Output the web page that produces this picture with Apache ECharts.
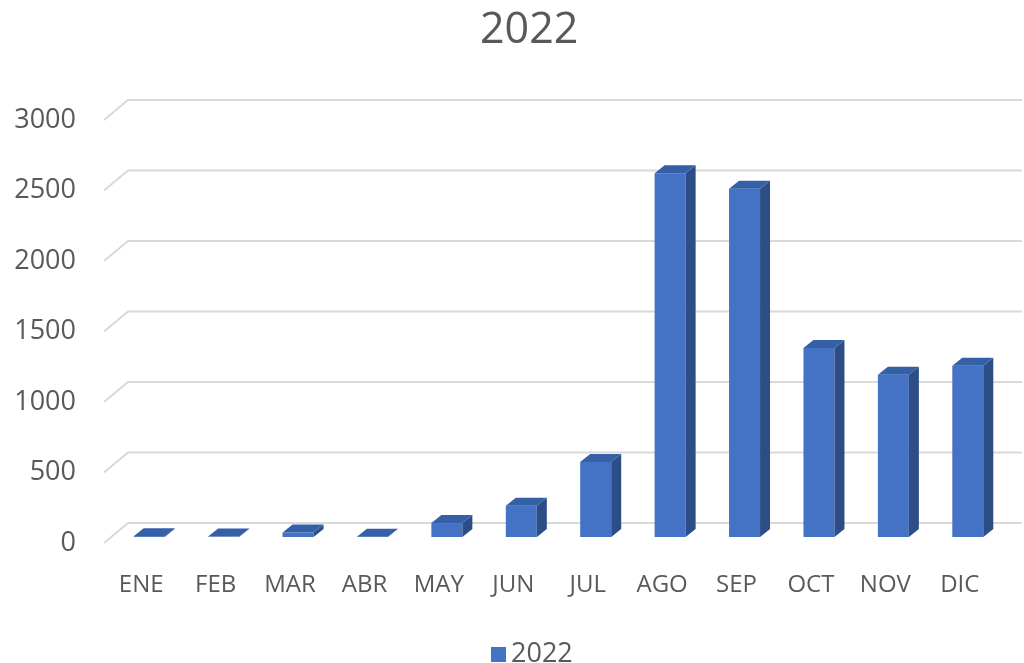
<!DOCTYPE html>
<html>
<head>
<meta charset="utf-8">
<script src="https://cdn.jsdelivr.net/npm/echarts@6/dist/echarts.min.js"></script>
<style>
  html, body { margin: 0; padding: 0; background: #fff; }
  #chart { width: 1024px; height: 663px; }
</style>
</head>
<body>
<div id="chart"></div>
<script>
const months = ['ENE', 'FEB', 'MAR', 'ABR', 'MAY', 'JUN', 'JUL', 'AGO', 'SEP', 'OCT', 'NOV', 'DIC']
const values2022 = [6, 3, 32, 2, 99, 222, 532, 2580, 2470, 1340, 1150, 1215]
const tickValues = [0, 500, 1000, 1500, 2000, 2500, 3000]

const FONT = '"Open Sans", "Liberation Sans", sans-serif'
const TEXT = '#595959'

// depth of the back wall and of the bars, in pixels
const WALL_DX = 24, WALL_DY = -20
const BAR_DX = 8, BAR_DY = -6
const BAR_W = 31, BAR_DEPTH_X = 10, BAR_DEPTH_Y = -8

const chart = echarts.init(document.getElementById('chart'))

const option = {
  animation: false,
  title: {
    text: '2022',
    left: 475,
    top: 4,
    textStyle: { color: TEXT, fontFamily: FONT, fontWeight: 'normal', fontSize: 43 }
  },
  legend: {
    data: [{ name: '2022', icon: 'rect' }],
    top: 636,
    left: 486,
    itemWidth: 15,
    itemHeight: 15,
    itemGap: 8,
    textStyle: { color: TEXT, fontFamily: FONT, fontSize: 27 }
  },
  grid: {
    left: 104,
    right: 27,
    top: 120,
    bottom: 120
  },
  xAxis: {
    type: 'category',
    data: months,
    axisLine: { show: false },
    axisTick: { show: false },
    axisLabel: { color: TEXT, fontFamily: FONT, fontSize: 24, margin: 30, interval: 0 }
  },
  yAxis: {
    type: 'value',
    min: 0,
    max: 3000,
    interval: 500,
    splitLine: { show: false },
    axisLine: { show: false },
    axisTick: { show: false },
    axisLabel: {
      color: TEXT, fontFamily: FONT, fontSize: 27, margin: 28,
      padding: [6, 0, 0, 0],
      formatter: v => String(v)
    }
  },
  series: [
    {
      name: 'grid',
      type: 'custom',
      silent: true,
      z: 1,
      data: tickValues.map(v => [0, v]),
      renderItem: function (params, api) {
        const rect = params.coordSys
        const y = api.coord([0, api.value(1)])[1]
        return {
          type: 'polyline',
          shape: {
            points: [
              [rect.x, y],
              [rect.x + WALL_DX, y + WALL_DY],
              [1022, y + WALL_DY]
            ]
          },
          style: { stroke: '#d9d9d9', lineWidth: 2, fill: null }
        }
      }
    },
    {
      name: '2022',
      type: 'custom',
      z: 2,
      itemStyle: { color: '#4472c4' },
      data: values2022.map((v, i) => [i, v]),
      renderItem: function (params, api) {
        const top = api.coord([api.value(0), api.value(1)])
        const base = api.coord([api.value(0), 0])
        const left = base[0] - 15.5 + BAR_DX
        const right = left + BAR_W
        const yTop = top[1] + BAR_DY
        const yBot = base[1] + BAR_DY
        return {
          type: 'group',
          children: [
            {
              type: 'polygon',
              shape: { points: [[left, yBot], [right, yBot], [right, yTop], [left, yTop]] },
              style: { fill: '#4472c4' }
            },
            {
              type: 'polygon',
              shape: {
                points: [
                  [right, yTop], [right + BAR_DEPTH_X, yTop + BAR_DEPTH_Y],
                  [right + BAR_DEPTH_X, yBot + BAR_DEPTH_Y], [right, yBot]
                ]
              },
              style: { fill: '#2c4d85' }
            },
            {
              type: 'polygon',
              shape: {
                points: [
                  [left, yTop], [left + BAR_DEPTH_X, yTop + BAR_DEPTH_Y],
                  [right + BAR_DEPTH_X, yTop + BAR_DEPTH_Y], [right, yTop]
                ]
              },
              style: { fill: '#3560a8' }
            }
          ]
        }
      }
    }
  ]
}

chart.setOption(option)
</script>
</body>
</html>
